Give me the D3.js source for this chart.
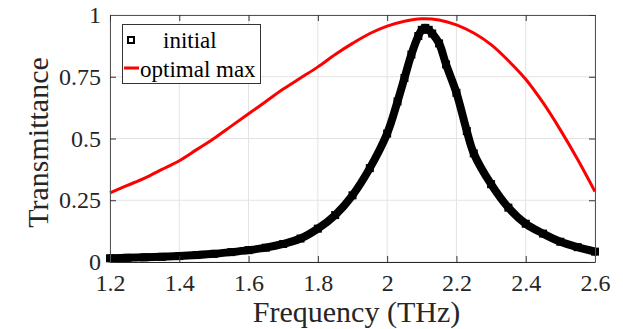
<!DOCTYPE html>
<html>
<head>
<meta charset="utf-8">
<script src="https://cdn.jsdelivr.net/npm/d3@7"></script>
<style>
  html, body { margin: 0; padding: 0; background: #fff; }
  svg { display: block; }
</style>
</head>
<body>
<svg id="chart" width="623" height="329" font-family="Liberation Serif"></svg>
<script>
// ---- data ----
const initialFreq = [1.20,1.25,1.30,1.35,1.40,1.45,1.50,1.55,1.60,1.65,1.70,1.75,1.80,1.85,1.90,1.95,2.00,2.03,2.05,2.07,2.09,2.10,2.11,2.12,2.13,2.15,2.17,2.20,2.23,2.25,2.30,2.35,2.40,2.45,2.50,2.55,2.60];
const initialT    = [0.015,0.017,0.019,0.021,0.024,0.028,0.033,0.040,0.048,0.058,0.073,0.095,0.135,0.19,0.27,0.38,0.52,0.65,0.745,0.84,0.915,0.94,0.948,0.94,0.925,0.885,0.80,0.685,0.53,0.44,0.315,0.22,0.155,0.115,0.082,0.06,0.042];
const optimalFreq = [1.20,1.25,1.30,1.35,1.40,1.45,1.50,1.55,1.60,1.65,1.70,1.75,1.80,1.85,1.90,1.95,2.00,2.05,2.10,2.15,2.20,2.25,2.30,2.35,2.40,2.45,2.50,2.55,2.60];
const optimalT    = [0.28,0.31,0.34,0.375,0.41,0.455,0.50,0.55,0.60,0.65,0.70,0.745,0.79,0.84,0.885,0.925,0.955,0.975,0.985,0.98,0.96,0.927,0.88,0.815,0.74,0.645,0.535,0.415,0.285];
const xTicks = [1.2,1.4,1.6,1.8,2.0,2.2,2.4,2.6];
const yTicks = [0,0.25,0.5,0.75,1];
const seriesNames = ["initial","optimal max"];
const xLabel = "Frequency (THz)";
const yLabel = "Transmittance";

// ---- layout ----
const FONT = "Liberation Serif";
const L = 110, R = 595, T = 15, B = 262;
const svg = d3.select("#chart");
const x = d3.scaleLinear().domain([1.2, 2.6]).range([L, R]);
const y = d3.scaleLinear().domain([0, 1]).range([B, T]);
const tickFmt = d => d === 0 ? "0" : String(d);

// grid
const grid = svg.append("g");
grid.selectAll("line.gx").data(xTicks).join("line")
  .attr("x1", d => x(d)).attr("x2", d => x(d)).attr("y1", T).attr("y2", B)
  .attr("stroke", "#e3e3e3").attr("stroke-width", 1);
grid.selectAll("line.gy").data(yTicks).join("line")
  .attr("x1", L).attr("x2", R).attr("y1", d => y(d)).attr("y2", d => y(d))
  .attr("stroke", "#e3e3e3").attr("stroke-width", 1);

// series
const initData = initialFreq.map((f, i) => [f, initialT[i]]);
const optData = optimalFreq.map((f, i) => [f, optimalT[i]]);
const line = d3.line().x(d => x(d[0])).y(d => y(d[1])).curve(d3.curveCatmullRom.alpha(0.5));

svg.append("path").datum(initData).attr("d", line)
  .attr("fill", "none").attr("stroke", "#000").attr("stroke-width", 8)
  .attr("stroke-linecap", "round").attr("stroke-linejoin", "round");
svg.append("g").selectAll("rect").data(initData).join("rect")
  .attr("x", d => x(d[0]) - 4).attr("y", d => y(d[1]) - 4)
  .attr("width", 8).attr("height", 8).attr("fill", "#000");

svg.append("path").datum(optData).attr("d", line)
  .attr("fill", "none").attr("stroke", "#ff0000").attr("stroke-width", 3);

// axes
const axB = svg.append("g").attr("transform", `translate(0,${B})`)
  .call(d3.axisBottom(x).tickValues(xTicks).tickFormat(tickFmt).tickSizeInner(-6).tickSizeOuter(0).tickPadding(12));
const axL = svg.append("g").attr("transform", `translate(${L},0)`)
  .call(d3.axisLeft(y).tickValues(yTicks).tickFormat(tickFmt).tickSizeInner(-6).tickSizeOuter(0).tickPadding(9));
const axT = svg.append("g").attr("transform", `translate(0,${T})`)
  .call(d3.axisTop(x).tickValues(xTicks).tickFormat("").tickSizeInner(-6).tickSizeOuter(0));
const axR = svg.append("g").attr("transform", `translate(${R},0)`)
  .call(d3.axisRight(y).tickValues(yTicks).tickFormat("").tickSizeInner(-6).tickSizeOuter(0));
[axB, axL, axT, axR].forEach(a => {
  a.attr("font-family", FONT).attr("font-size", 24);
  a.selectAll("path.domain").attr("stroke", "#555");
  a.selectAll(".tick line").attr("stroke", "#333");
});
axB.select("path.domain").attr("stroke", "#262626");
[axB, axL].forEach(a => a.selectAll(".tick text")
  .attr("font-family", FONT).attr("font-size", 24).attr("fill", "#262626"));
axB.selectAll(".tick text").attr("dy", "0.71em");

// axis labels
svg.append("text").attr("x", (L + R) / 2 + 4).attr("y", 322)
  .attr("font-family", FONT).attr("font-size", 30).attr("fill", "#262626")
  .attr("text-anchor", "middle").text(xLabel);
svg.append("text").attr("transform", `translate(48,${(T + B) / 2 + 4}) rotate(-90)`)
  .attr("font-family", FONT).attr("font-size", 30).attr("fill", "#262626")
  .attr("text-anchor", "middle").text(yLabel);

// legend
const lg = svg.append("g");
lg.append("rect").attr("x", 122.5).attr("y", 24.5).attr("width", 138).attr("height", 59)
  .attr("fill", "#fff").attr("stroke", "#333").attr("stroke-width", 1);
lg.append("rect").attr("x", 128).attr("y", 37).attr("width", 6).attr("height", 6)
  .attr("fill", "#fff").attr("stroke", "#000").attr("stroke-width", 2);
lg.append("text").attr("x", 163).attr("y", 48)
  .attr("font-family", FONT).attr("font-size", 23).attr("fill", "#000").text(seriesNames[0]);
lg.append("line").attr("x1", 124).attr("x2", 139).attr("y1", 68).attr("y2", 68)
  .attr("stroke", "#ff0000").attr("stroke-width", 3);
lg.append("text").attr("x", 140).attr("y", 77)
  .attr("font-family", FONT).attr("font-size", 23).attr("fill", "#000").text(seriesNames[1]);
</script>
</body>
</html>
